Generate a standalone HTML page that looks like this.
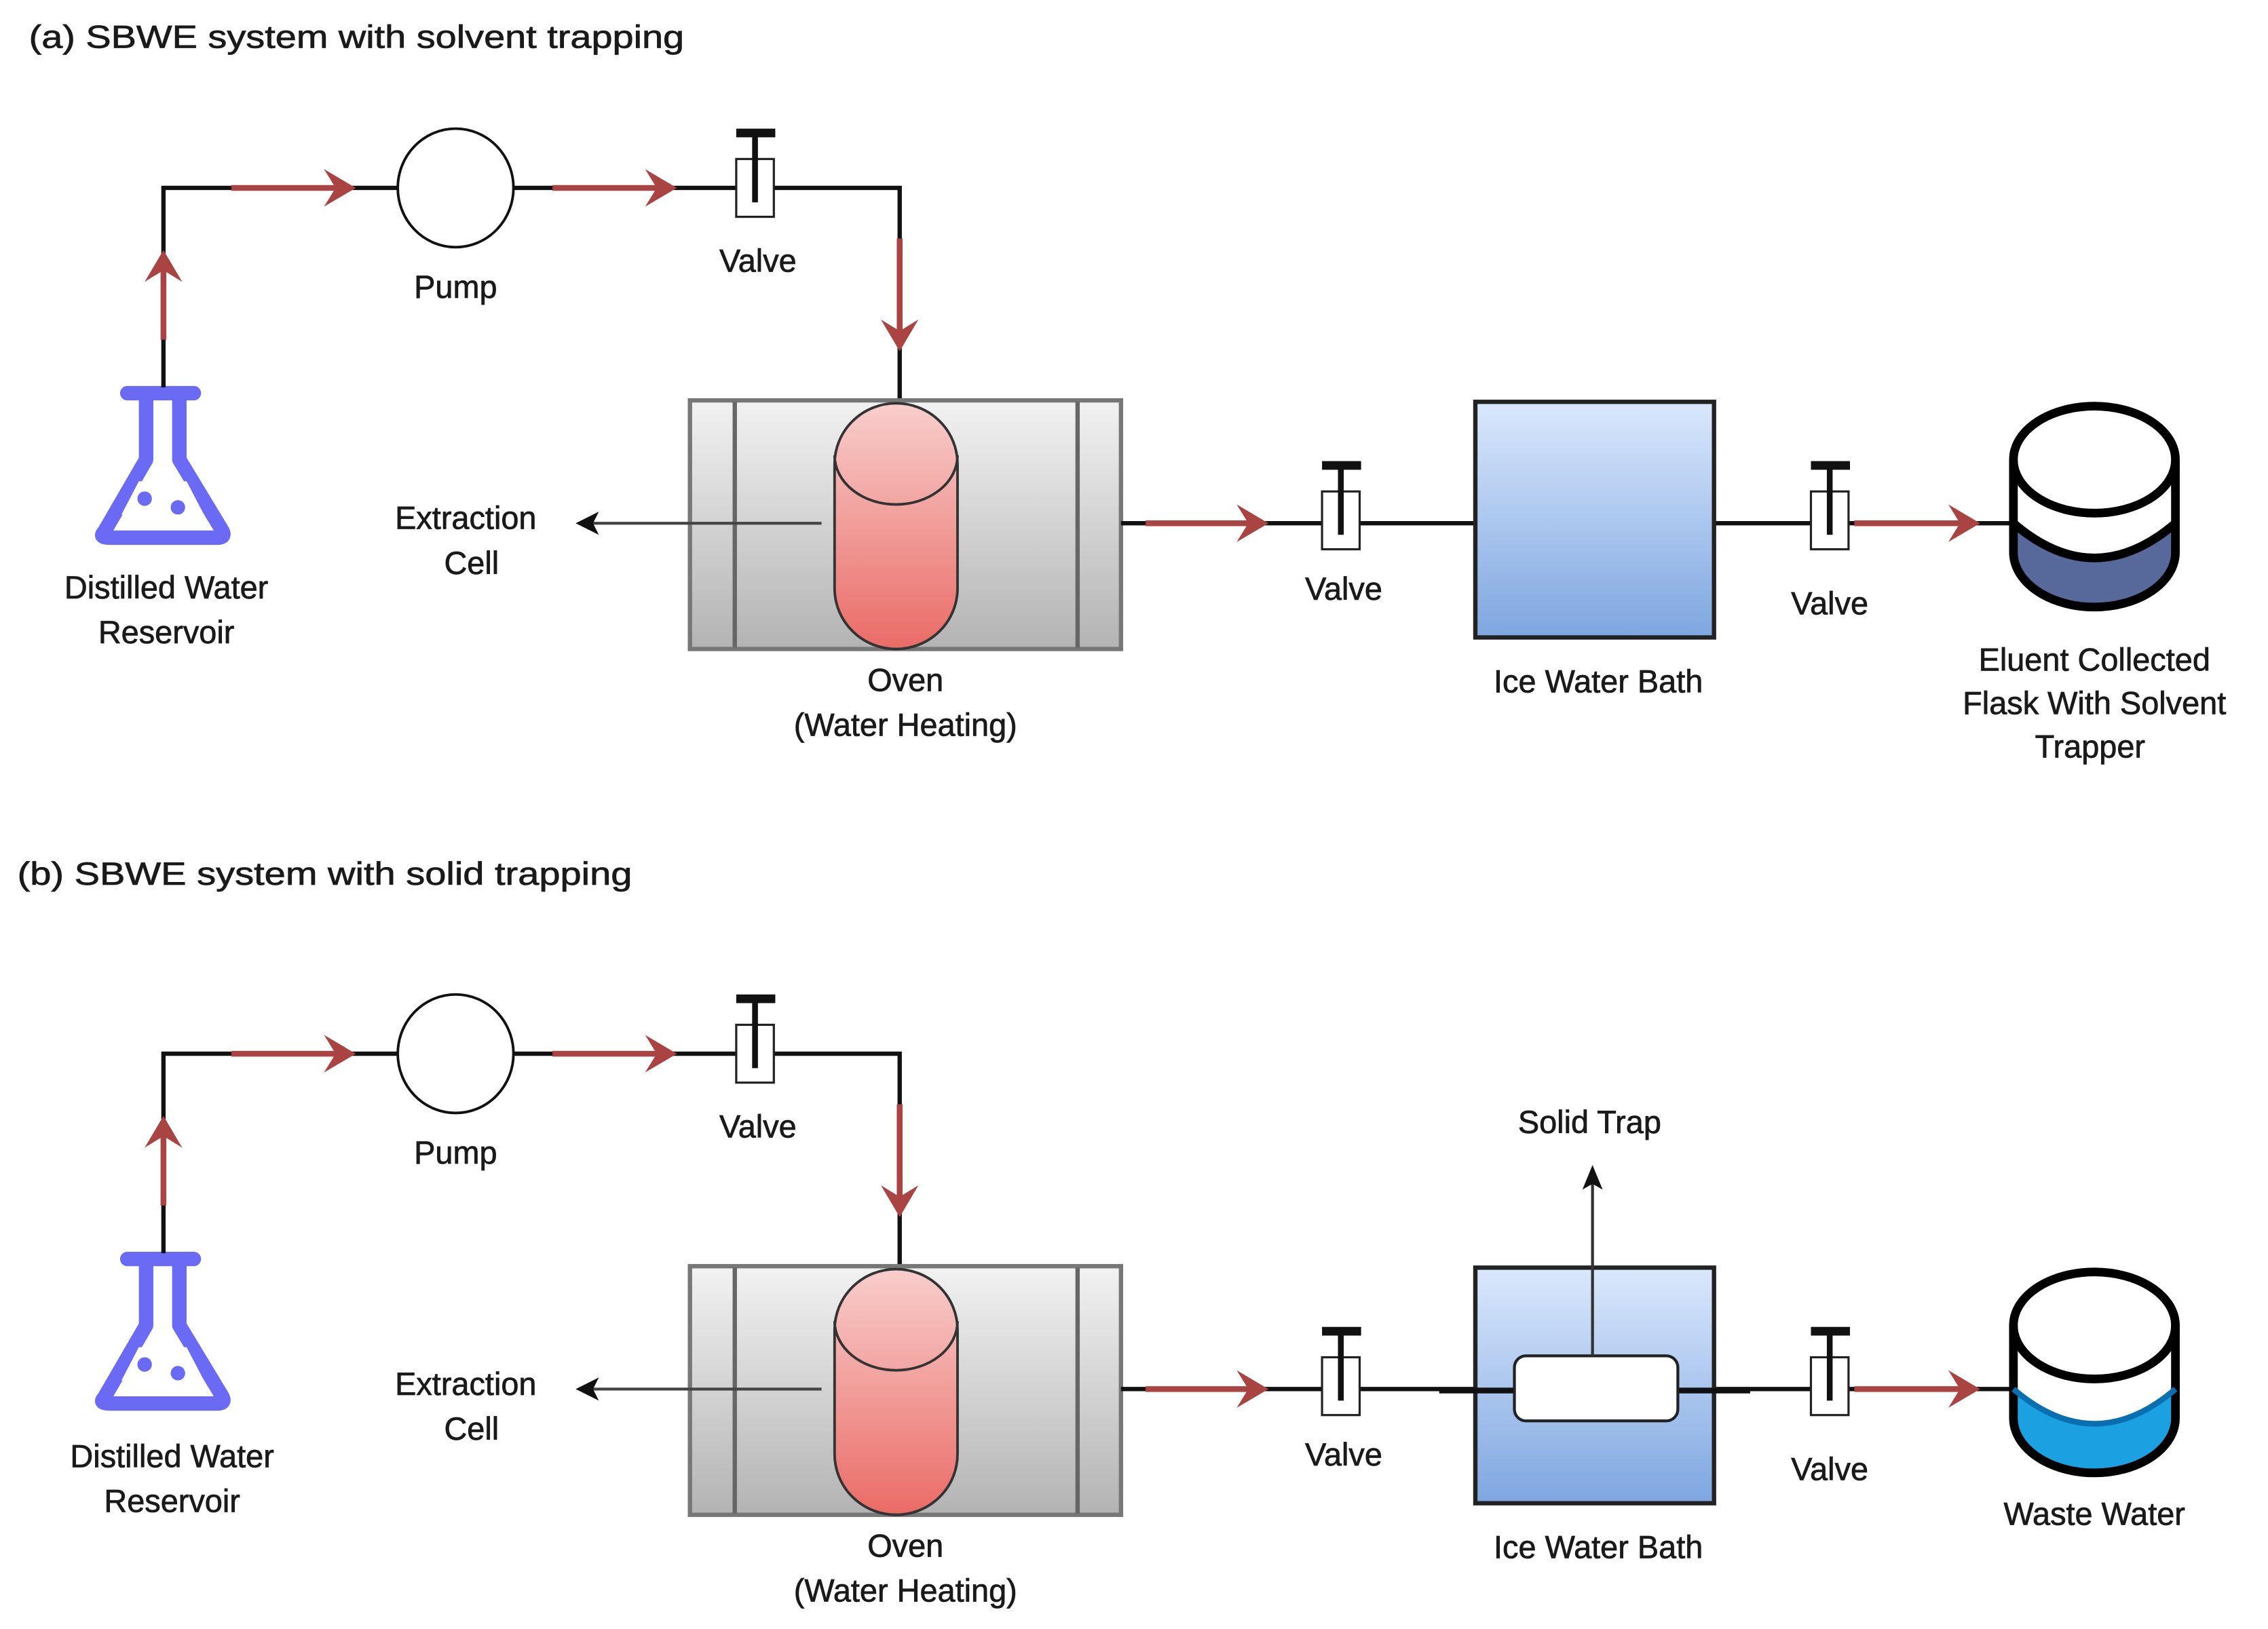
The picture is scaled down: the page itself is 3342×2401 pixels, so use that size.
<!DOCTYPE html>
<html><head><meta charset="utf-8"><style>
html,body{margin:0;padding:0;background:#fff;}
svg{display:block;}
text{font-family:"Liberation Sans",Arial,sans-serif;fill:#1a1a1a;font-size:22px;stroke:#1a1a1a;stroke-width:0.35px;}
</style></head><body>
<svg width="3342" height="2401" viewBox="0 0 1568 1127" preserveAspectRatio="none" xmlns="http://www.w3.org/2000/svg">
<defs>
<linearGradient id="gray" x1="0" y1="0" x2="0" y2="1"><stop offset="0" stop-color="#f2f2f2"/><stop offset="1" stop-color="#b3b3b3"/></linearGradient>
<linearGradient id="red" x1="0" y1="0" x2="0" y2="1"><stop offset="0" stop-color="#f8cecc"/><stop offset="1" stop-color="#ea6b66"/></linearGradient>
<linearGradient id="blue" x1="0" y1="0" x2="0" y2="1"><stop offset="0" stop-color="#dae8fc"/><stop offset="1" stop-color="#7ea6e0"/></linearGradient>
<g id="valve">
<rect x="-13" y="-20" width="26" height="40" fill="#fff" stroke="#222" stroke-width="1.5"/>
<rect x="-13" y="-41" width="27" height="6" fill="#111"/>
<rect x="-2" y="-38" width="4" height="48" fill="#111"/>
</g>
<path id="arrR" d="M0,0 L-22,-13 L-14,0 L-22,13 Z" fill="#a94442"/>
<g id="common">
<!-- flask -->
<g fill="none" stroke="#6a6af5" stroke-width="10" stroke-linejoin="round" stroke-linecap="round">
<line x1="88" y1="272" x2="134" y2="272"/>
<path d="M101,274 L101,318 L72,368 Q68,372 76,372 L150,372 Q157,372 153,366 L124,318 L124,274"/>
</g>
<path d="M84,356 L96,333 L129,333 L141,356 Z" fill="#fff"/>
<circle cx="100" cy="345" r="5" fill="#6a6af5"/><circle cx="123" cy="351" r="5" fill="#6a6af5"/>
<!-- pipes -->
<polyline points="113,268 113,130 275,130" fill="none" stroke="#111" stroke-width="3"/>
<line x1="113" y1="235" x2="113" y2="180" stroke="#a94442" stroke-width="4"/>
<use href="#arrR" transform="translate(113,173) rotate(-90)"/>
<line x1="160" y1="130" x2="235" y2="130" stroke="#a94442" stroke-width="4"/>
<use href="#arrR" transform="translate(246,130)"/>
<ellipse cx="315" cy="130" rx="40" ry="41" fill="#fff" stroke="#111" stroke-width="1.8"/>
<polyline points="355,130 622,130 622,280" fill="none" stroke="#111" stroke-width="3"/>
<line x1="382" y1="130" x2="458" y2="130" stroke="#a94442" stroke-width="4"/>
<use href="#arrR" transform="translate(468,130)"/>
<line x1="622" y1="165" x2="622" y2="232" stroke="#a94442" stroke-width="4"/>
<use href="#arrR" transform="translate(622,243) rotate(90)"/>
<use href="#valve" transform="translate(522,130)"/>
<text x="315" y="206" text-anchor="middle">Pump</text>
<text x="524" y="188" text-anchor="middle">Valve</text>
<!-- oven -->
<rect x="477" y="277" width="298" height="172" fill="url(#gray)" stroke="#777" stroke-width="3"/>
<line x1="508" y1="278" x2="508" y2="448" stroke="#666" stroke-width="3"/>
<line x1="745" y1="278" x2="745" y2="448" stroke="#666" stroke-width="3"/>
<line x1="400" y1="362" x2="568" y2="362" stroke="#444" stroke-width="2"/>
<path d="M398,362 L414,354 L410,362 L414,370 Z" fill="#111"/>
<rect x="577" y="279" width="85" height="170" rx="42.5" ry="42" fill="url(#red)" stroke="#333" stroke-width="1.8"/>
<path d="M577,315 A42.5,34 0 0 0 662,315" fill="none" stroke="#333" stroke-width="1.8"/>
<text x="322" y="366" text-anchor="middle">Extraction</text>
<text x="326" y="397" text-anchor="middle">Cell</text>
<text x="626" y="478" text-anchor="middle">Oven</text>
<text x="626" y="509" text-anchor="middle">(Water Heating)</text>
<!-- to ice bath -->
<line x1="775" y1="362" x2="1020" y2="362" stroke="#111" stroke-width="3"/>
<line x1="792" y1="362" x2="866" y2="362" stroke="#a94442" stroke-width="4"/>
<use href="#arrR" transform="translate(877,362)"/>
<use href="#valve" transform="translate(927,360)"/>
<text x="929" y="415" text-anchor="middle">Valve</text>
<line x1="1185" y1="362" x2="1392" y2="362" stroke="#111" stroke-width="3"/>
<line x1="1282" y1="362" x2="1358" y2="362" stroke="#a94442" stroke-width="4"/>
<use href="#arrR" transform="translate(1369,362)"/>
<use href="#valve" transform="translate(1265,360)"/>
<text x="1265" y="425" text-anchor="middle">Valve</text>
<rect x="1020" y="278" width="165" height="163" fill="url(#blue)" stroke="#222" stroke-width="3"/>
<text x="1105" y="479" text-anchor="middle">Ice Water Bath</text>
</g>
</defs>

<text x="20" y="33" textLength="453" lengthAdjust="spacingAndGlyphs">(a) SBWE system with solvent trapping</text>
<use href="#common"/>
<text x="115" y="414" text-anchor="middle">Distilled Water</text>
<text x="115" y="445" text-anchor="middle">Reservoir</text>
<!-- eluent flask -->
<path d="M1392,362 Q1448,408 1504,362 L1504,382 A56,38 0 0 1 1392,382 Z" fill="#56699a"/>
<path d="M1392,318 L1392,382 A56,38 0 0 0 1504,382 L1504,318" fill="none" stroke="#000" stroke-width="6"/>
<ellipse cx="1448" cy="318" rx="56" ry="37" fill="none" stroke="#000" stroke-width="6"/>
<path d="M1392,362 Q1448,410 1504,362" fill="none" stroke="#000" stroke-width="6"/>
<text x="1448" y="464" text-anchor="middle">Eluent Collected</text>
<text x="1448" y="494" text-anchor="middle">Flask With Solvent</text>
<text x="1445" y="524" text-anchor="middle">Trapper</text>

<text x="12" y="612" textLength="425" lengthAdjust="spacingAndGlyphs">(b) SBWE system with solid trapping</text>
<g transform="translate(0,599)">
<use href="#common"/>
<text x="119" y="416" text-anchor="middle">Distilled Water</text>
<text x="119" y="447" text-anchor="middle">Reservoir</text>
<line x1="995" y1="363" x2="1210" y2="363" stroke="#111" stroke-width="4"/>
<rect x="1047" y="339" width="113" height="45" rx="8" fill="#fff" stroke="#222" stroke-width="2"/>
<line x1="1101" y1="339" x2="1101" y2="220" stroke="#333" stroke-width="2"/>
<path d="M1101,207 L1094,224 L1101,220 L1108,224 Z" fill="#111"/>
<text x="1099" y="185" text-anchor="middle">Solid Trap</text>
<path d="M1392,362 Q1448,410 1504,362 L1504,382 A56,38 0 0 1 1392,382 Z" fill="#1ba1e2"/>
<path d="M1392,318 L1392,382 A56,38 0 0 0 1504,382 L1504,318" fill="none" stroke="#000" stroke-width="6"/>
<ellipse cx="1448" cy="318" rx="56" ry="37" fill="none" stroke="#000" stroke-width="6"/>
<path d="M1392,362 Q1448,410 1504,362" fill="none" stroke="#0a6fb0" stroke-width="4"/>
<text x="1448" y="456" text-anchor="middle">Waste Water</text>
</g>
</svg>
</body></html>
